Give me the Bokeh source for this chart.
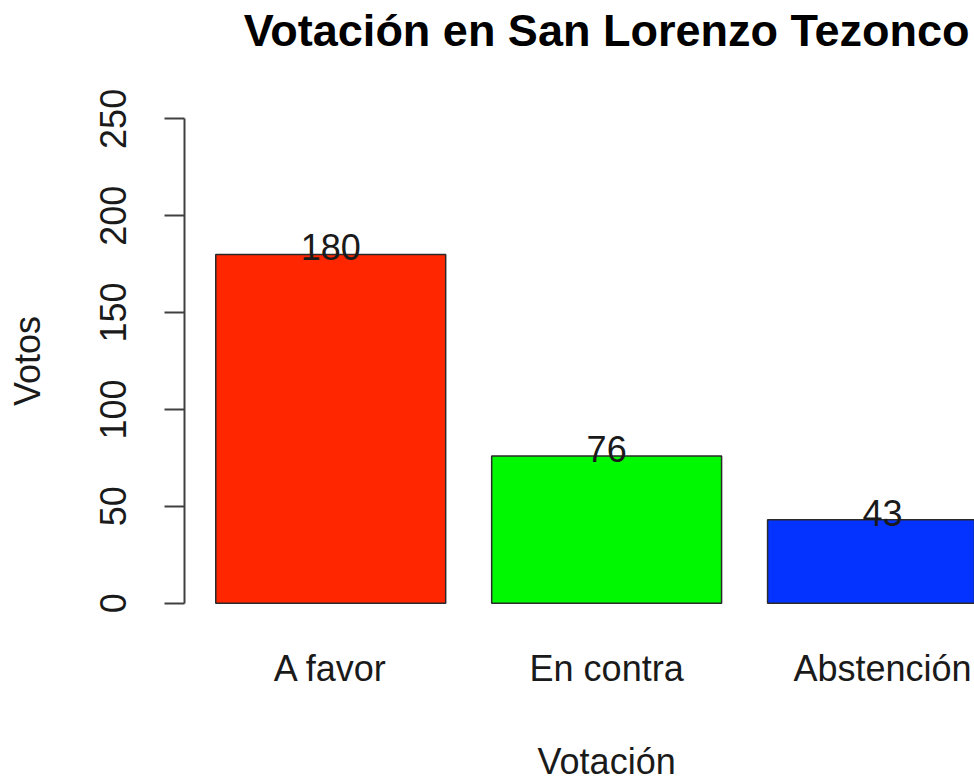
from bokeh.plotting import figure
from bokeh.models import Range1d, FixedTicker, ColumnDataSource, LinearAxis
from bokeh.core.properties import value
from bokeh.embed import file_html
from bokeh.resources import INLINE

# ---- data ----
categories = ["A favor", "En contra", "Abstención"]
votes = [180, 76, 43]
bar_colors = ["#FF2600", "#00F900", "#0433FF"]
y_ticks = [0, 50, 100, 150, 200, 250]
title_text = "Votación en San Lorenzo Tezonco"
x_title = "Votación"
y_title = "Votos"

# R barplot geometry (width 1, space 0.2)
bar_w = 1.0
space = 0.2
centers = [round(space * (i + 1) + bar_w * i + bar_w / 2, 6) for i in range(len(votes))]
x_left = space - 0.04 * (len(votes) * (bar_w + space) - space)
x_mid = round((space + len(votes) * (bar_w + space)) / 2, 6)

FONT = "Liberation Sans"
TXT = "#1a1a1a"

p = figure(
    frame_width=790, frame_height=523,
    min_border_left=184, min_border_right=0, min_border_top=99, min_border_bottom=0,
    x_range=Range1d(x_left, 3.5), y_range=Range1d(-10, 260),
    output_backend="svg", toolbar_location=None, tools="",
)
p.outline_line_color = None
p.xgrid.visible = False
p.ygrid.visible = False
p.background_fill_color = "white"
p.border_fill_color = "white"

src = ColumnDataSource(dict(x=centers, top=votes, color=bar_colors,
                            label=[str(v) for v in votes]))
p.vbar(x="x", top="top", bottom=0, width=bar_w, fill_color="color",
       line_color="#2a2a2a", line_width=1.5, source=src)
p.text(x="x", y="top", text="label", source=src, text_align="center",
       text_baseline="middle", text_font=value(FONT), text_font_size="36px",
       text_color=TXT, y_offset=-7)


def bare_axis(ax, ticks, overrides, size, standoff, style="normal"):
    ax.ticker = FixedTicker(ticks=ticks)
    ax.major_label_overrides = overrides
    ax.axis_line_color = None
    ax.major_tick_line_color = None
    ax.minor_tick_line_color = None
    ax.major_label_standoff = standoff
    ax.major_label_text_font = FONT
    ax.major_label_text_font_size = size
    ax.major_label_text_font_style = style
    ax.major_label_text_color = TXT


# x axis (bar names)
bare_axis(p.xaxis[0], centers, {c: n for c, n in zip(centers, categories)}, "36px", 19)

# x-axis title, centred on R's plot region
xt = LinearAxis()
bare_axis(xt, [x_mid], {x_mid: x_title}, "36px", 43)
p.add_layout(xt, "below")

# main title, centred on R's plot region
tt = LinearAxis()
bare_axis(tt, [x_mid], {x_mid: title_text}, "45px", 38, style="bold")
tt.major_label_text_color = "black"
p.add_layout(tt, "above")

# y axis
ya = p.yaxis[0]
ya.ticker = FixedTicker(ticks=y_ticks)
ya.bounds = (y_ticks[0], y_ticks[-1])
ya.axis_line_color = "#404040"
ya.axis_line_width = 2
ya.major_tick_line_color = "#404040"
ya.major_tick_line_width = 2
ya.major_tick_out = 20
ya.major_tick_in = 0
ya.minor_tick_line_color = None
ya.major_label_orientation = "vertical"
ya.major_label_standoff = 38
ya.major_label_text_font = FONT
ya.major_label_text_font_size = "36px"
ya.major_label_text_color = TXT
ya.axis_label = y_title
ya.axis_label_standoff = 50
ya.axis_label_text_font = FONT
ya.axis_label_text_font_size = "36px"
ya.axis_label_text_font_style = "normal"
ya.axis_label_text_color = TXT

open("out.html", "w").write(file_html(p, INLINE))
